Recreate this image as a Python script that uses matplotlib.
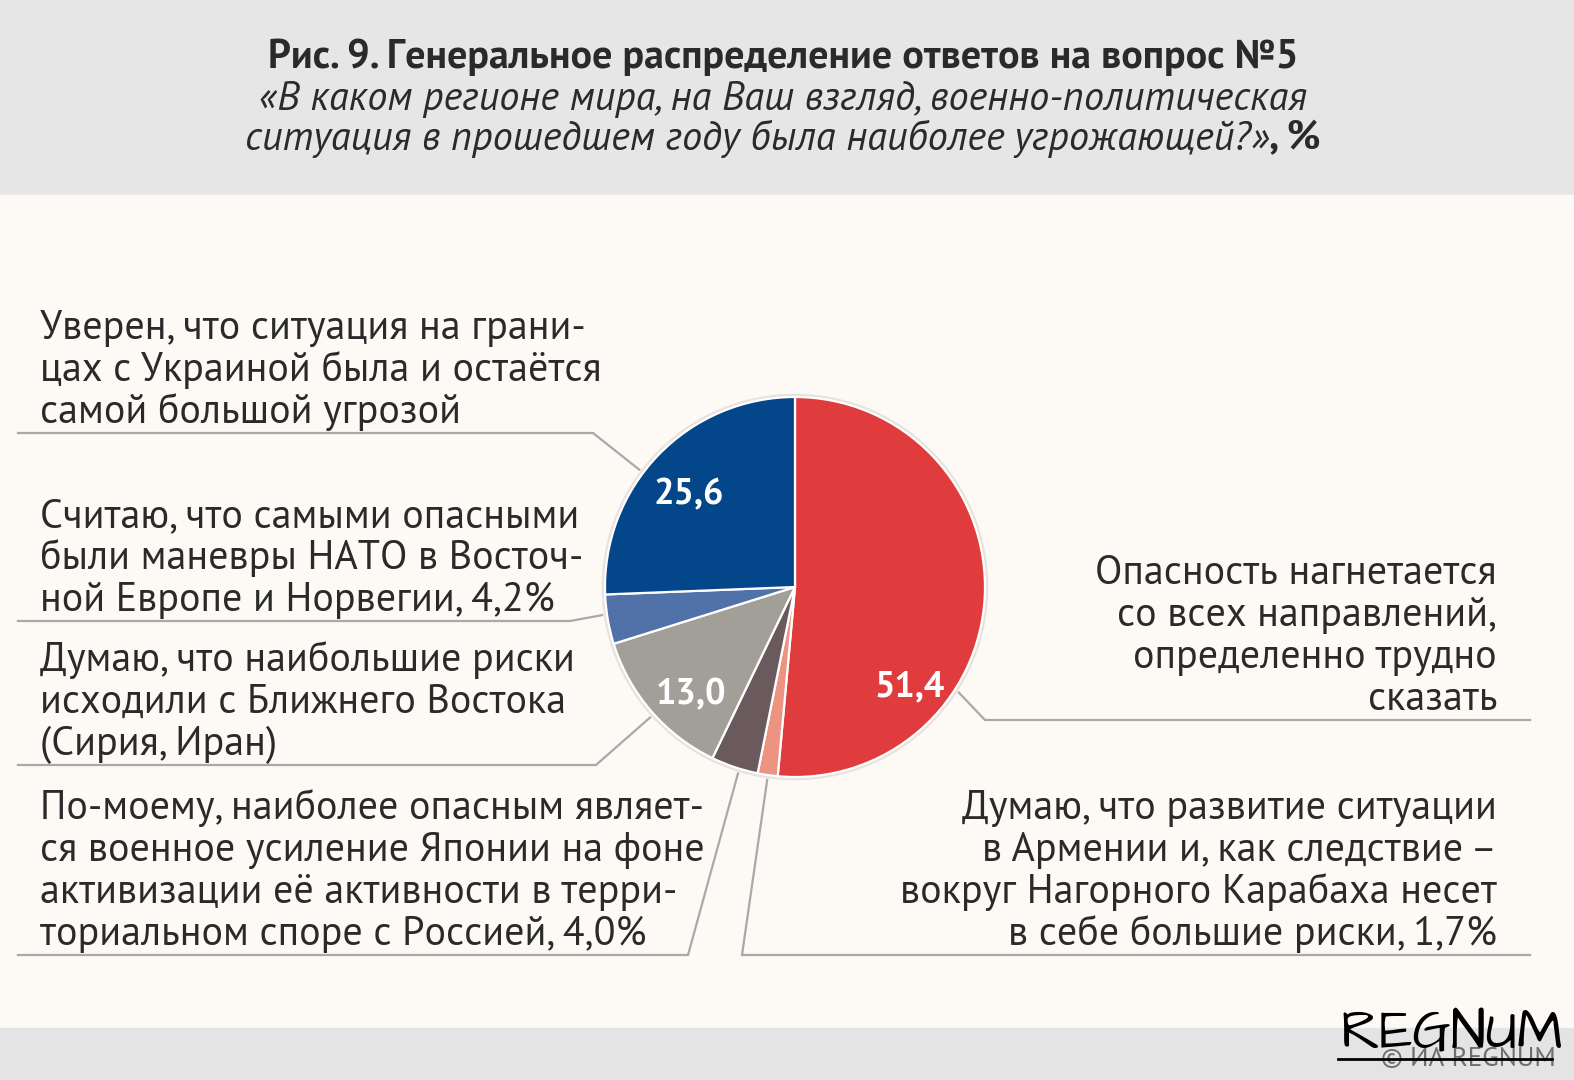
import numpy as np
import matplotlib
matplotlib.use("Agg")
import matplotlib.pyplot as plt
from matplotlib.patches import Rectangle, Circle

# data
values = [51.4, 1.7, 4.0, 13.0, 4.2, 25.6]
colors = ["#e03c3d", "#ec9381", "#6b5a5d", "#a29f99", "#5171a9", "#03468a"]
shown = {0: "51,4", 3: "13,0", 5: "25,6"}

title = "Рис. 9. Генеральное распределение ответов на вопрос №5"
sub1 = "«В каком регионе мира, на Ваш взгляд, военно-политическая"
sub2 = "ситуация в прошедшем году была наиболее угрожающей?»"

left_labels = [
    ["Уверен, что ситуация на грани-", "цах с Украиной была и остаётся", "самой большой угрозой"],
    ["Считаю, что самыми опасными", "были маневры НАТО в Восточ-", "ной Европе и Норвегии, 4,2%"],
    ["Думаю, что наибольшие риски", "исходили с Ближнего Востока", "(Сирия, Иран)"],
    ["По-моему, наиболее опасным являет-", "ся военное усиление Японии на фоне",
     "активизации её активности в терри-", "ториальном споре с Россией, 4,0%"],
]
right_labels = [
    ["Опасность нагнетается", "со всех направлений,", "определенно трудно", "сказать"],
    ["Думаю, что развитие ситуации", "в Армении и, как следствие –",
     "вокруг Нагорного Карабаха несет", "в себе большие риски, 1,7%"],
]

W, H = 1574, 1080
SANS = ["PT Sans", "Noto Sans", "DejaVu Sans"]
TXT = "#2a2a2a"
LINE = "#a9a9a9"

fig = plt.figure(figsize=(W / 100, H / 100), dpi=100)
ax = fig.add_axes([0, 0, 1, 1])

cx, cy, R = 795, 587, 190
wedges, _ = ax.pie(values, colors=colors, startangle=-90, counterclock=True,
                   center=(cx, cy), radius=R,
                   wedgeprops=dict(edgecolor="white", linewidth=1.6))
ax.set_xlim(0, W)
ax.set_ylim(H, 0)
ax.set_aspect("auto")
ax.axis("off")

# backgrounds
ax.add_patch(Rectangle((0, 0), W, 195, color="#e6e6e6", zorder=-3))
ax.add_patch(Rectangle((0, 195), W, 833, color="#fdf9f5", zorder=-3))
ax.add_patch(Rectangle((0, 1028), W, 52, color="#e4e4e4", zorder=-3))
ax.add_patch(Circle((cx, cy), R + 1.5, fill=False, ec="#e6e2de", lw=2.5, zorder=0.5))


def pt(angle, r):
    a = np.deg2rad(angle)
    return cx + r * np.cos(a), cy - r * np.sin(a)


# values inside wedges (angle measured on screen, counter-clockwise from 3 o'clock)
label_pos = {0: (-40, 0.79), 3: (-135, 0.775), 5: (138, 0.75)}
for i, txt in shown.items():
    ang, rf = label_pos[i]
    x, y = pt(ang, rf * R)
    ax.text(x, y, txt, ha="center", va="center_baseline", color="white", fontsize=26,
            fontweight="bold", family=SANS)

# leader lines: anchor angle on the pie, elbow, end of the underline
leaders = [
    (143, (593, 433), 18),
    (-171.7, (570, 621), 18),
    (-138, (596, 765), 18),
    (-107, (688, 955), 18),
    (-98.2, (742, 955), 1530),
    (-32.8, (985, 720), 1530),
]
for ang, (ex, ey), xend in leaders:
    ax0, ay0 = pt(ang, R + 5)
    ax.plot([ax0, ex, xend], [ay0, ey, ey], color=LINE, lw=1.6,
            solid_joinstyle="miter", zorder=1)

# side texts
pitch = 42
fs = 28.8
left_under = [433, 621, 765, 955]
for lines, yu in zip(left_labels, left_under):
    base = yu - 10 - pitch * (len(lines) - 1)
    for k, s in enumerate(lines):
        ax.text(40, base + k * pitch, s, ha="left", va="baseline", color=TXT,
                fontsize=fs, family=SANS)

right_under = [720, 955]
for lines, yu in zip(right_labels, right_under):
    base = yu - 10 - pitch * (len(lines) - 1)
    for k, s in enumerate(lines):
        ax.text(1497, base + k * pitch, s, ha="right", va="baseline", color=TXT,
                fontsize=fs, family=SANS)

# header
ax.text(783, 57, title, ha="center", va="center", color=TXT, fontsize=28.8,
        fontweight="bold", family=SANS)
ital = dict(family=SANS, style="italic", fontsize=29, color=TXT)
ax.text(783, 99, sub1, ha="center", va="center", **ital)
renderer = fig.canvas.get_renderer()
t1 = ax.text(0, 139, sub2, ha="left", va="center", **ital)
t2 = ax.text(0, 139, ", %", ha="left", va="center", color=TXT, fontsize=29,
             fontweight="bold", family=SANS)
w1 = t1.get_window_extent(renderer).width
w2 = t2.get_window_extent(renderer).width
x0 = 783 - (w1 + w2) / 2
t1.set_x(x0)
t2.set_x(x0 + w1)

# footer logo
ax.text(1452, 1049, "REGNUM", ha="center", va="baseline", color="black", fontsize=40,
        family=["Architects Daughter", "PT Sans", "DejaVu Sans"], zorder=3)
ax.plot([1338, 1552], [1059, 1059], color="black", lw=2, zorder=3)
ax.text(1468, 1059, "© ИА REGNUM", ha="center", va="center", color="#6e6e6e",
        fontsize=19.5, family=SANS, zorder=2)

fig.savefig("out.png", dpi=100)
